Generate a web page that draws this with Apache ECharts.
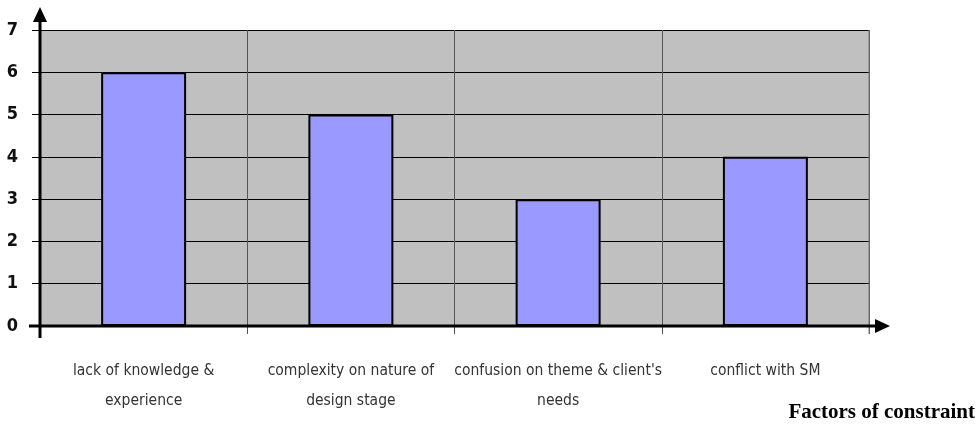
<!DOCTYPE html>
<html>
<head>
<meta charset="utf-8">
<script src="https://cdn.jsdelivr.net/npm/echarts@6/dist/echarts.min.js"></script>
<style>
  html, body { margin: 0; padding: 0; background: #fff; }
  #chart { width: 979px; height: 425px; }
</style>
</head>
<body>
<div id="chart"></div>
<script>
// Factors of constraint and how often each was reported
const categories = [
  'lack of knowledge &\nexperience',
  'complexity on nature of\ndesign stage',
  "confusion on theme & client's\nneeds",
  'conflict with SM'
];
const counts = [6, 5, 3, 4];
const yTicks = [0, 1, 2, 3, 4, 5, 6, 7];

const chart = echarts.init(document.getElementById('chart'));

const option = {
  animation: false,
  grid: {
    left: 40, right: 110, top: 30, bottom: 99, containLabel: false,
    show: true, backgroundColor: '#c0c0c0', borderWidth: 0
  },
  xAxis: {
    type: 'category',
    data: categories,
    axisLine: { show: false },
    axisTick: { show: true, length: 8, interval: 0, lineStyle: { color: '#555', width: 1 } },
    splitLine: { show: true, interval: 0, lineStyle: { color: '#555', width: 1 } },
    axisLabel: {
      interval: 0,
      margin: 30,
      fontFamily: '"Liberation Sans Narrow", "DejaVu Sans Condensed", sans-serif',
      fontSize: 15.5,
      lineHeight: 30,
      color: '#333'
    }
  },
  yAxis: {
    type: 'value',
    min: yTicks[0],
    max: yTicks[yTicks.length - 1],
    interval: 1,
    axisLine: { show: false },
    axisTick: { show: true, length: 8, lineStyle: { color: '#000', width: 1 } },
    splitLine: { show: true, lineStyle: { color: '#000', width: 1 } },
    axisLabel: {
      margin: 22,
      fontFamily: '"Liberation Sans Narrow", "DejaVu Sans Condensed", sans-serif',
      fontSize: 18,
      fontWeight: 'bold',
      color: '#111'
    }
  },
  series: [{
    type: 'bar',
    data: counts,
    barWidth: '41%',
    itemStyle: { color: '#9999ff', borderColor: '#000', borderWidth: 2 },
    z: 3
  }]
};
chart.setOption(option);

// Axis lines with arrowheads, placed from the chart's own coordinate system
const rect = chart.getModel().getComponent('grid', 0).coordinateSystem.getRect();
const x0 = rect.x, yBase = rect.y + rect.height, xEnd = rect.x + rect.width, yTop = rect.y;

chart.setOption({
  graphic: [
    // plot frame (right border)
    { type: 'line', shape: { x1: xEnd, y1: yTop, x2: xEnd, y2: yBase + 8 },
      style: { stroke: '#777', lineWidth: 1 }, z: 5 },
    // y axis
    { type: 'line', shape: { x1: x0, y1: yBase + 12, x2: x0, y2: yTop - 14 },
      style: { stroke: '#000', lineWidth: 3 }, z: 10 },
    { type: 'polygon', shape: { points: [[x0, yTop - 23], [x0 - 7, yTop - 8], [x0 + 7, yTop - 8]] },
      style: { fill: '#000' }, z: 10 },
    // x axis
    { type: 'line', shape: { x1: x0 - 11, y1: yBase, x2: xEnd + 8, y2: yBase },
      style: { stroke: '#000', lineWidth: 3 }, z: 10 },
    { type: 'polygon', shape: { points: [[xEnd + 21, yBase], [xEnd + 6, yBase - 7], [xEnd + 6, yBase + 7]] },
      style: { fill: '#000' }, z: 10 },
    // axis title
    { type: 'text', right: 4, top: 402,
      style: { text: 'Factors of constraint', font: 'bold 21px "Liberation Serif", "DejaVu Serif", serif', fill: '#000' }, z: 10 }
  ]
});
</script>
</body>
</html>
